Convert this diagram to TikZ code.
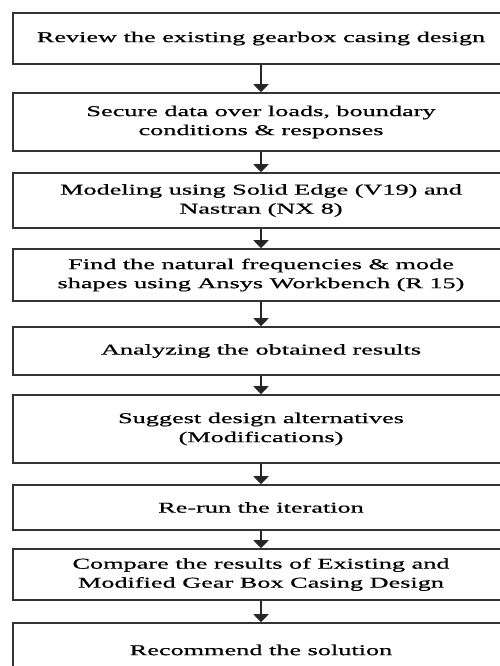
\documentclass[tikz,border=0pt]{standalone}
\usepackage{fontspec}
\setmainfont[FakeStretch=1.75,FakeBold=0.6]{Liberation Serif}
\usetikzlibrary{arrows.meta}

\begin{document}
\begin{tikzpicture}[x=1pt, y=-1pt,
stepbox/.style={rectangle, draw=black!80, line width=1.6pt, fill=white, inner sep=0pt, minimum width=496pt, align=center, font=\fontsize{15}{19}\selectfont},
flow/.style={-{Triangle[width=15pt,length=8pt]}, line width=2.2pt, draw=black!85},
]
\useasboundingbox (0,0) rectangle (499,666);
%Nodes
\node[stepbox, minimum height=51pt] (review)    at (261,38.5) {Review the existing gearbox casing design};
\node[stepbox, minimum height=58pt] (secure)    at (261,122)  {Secure data over loads, boundary\\conditions \& responses};
\node[stepbox, minimum height=55pt] (modeling)  at (261,200.5) {Modeling using Solid Edge (V19) and\\Nastran (NX 8)};
\node[stepbox, minimum height=52pt] (natfreq)   at (261,275)  {Find the natural frequencies \& mode\\shapes using Ansys Workbench (R 15)};
\node[stepbox, minimum height=48pt] (analyze)   at (261,351)  {Analyzing the obtained results};
\node[stepbox, minimum height=68pt] (suggest)   at (261,429)  {Suggest design alternatives\\(Modifications)};
\node[stepbox, minimum height=45pt] (rerun)     at (261,507.5) {Re-run the iteration};
\node[stepbox, minimum height=51pt] (compare)   at (261,574.5) {Compare the results of Existing and\\Modified Gear Box Casing Design};
\node[stepbox, minimum height=54pt] (recommend) at (261,650)  {Recommend the solution};

%Lines
\draw[flow] (review.south) -- (secure.north);
\draw[flow] (secure.south) -- (modeling.north);
\draw[flow] (modeling.south) -- (natfreq.north);
\draw[flow] (natfreq.south) -- (analyze.north);
\draw[flow] (analyze.south) -- (suggest.north);
\draw[flow] (suggest.south) -- (rerun.north);
\draw[flow] (rerun.south) -- (compare.north);
\draw[flow] (compare.south) -- (recommend.north);

\end{tikzpicture}
\end{document}
